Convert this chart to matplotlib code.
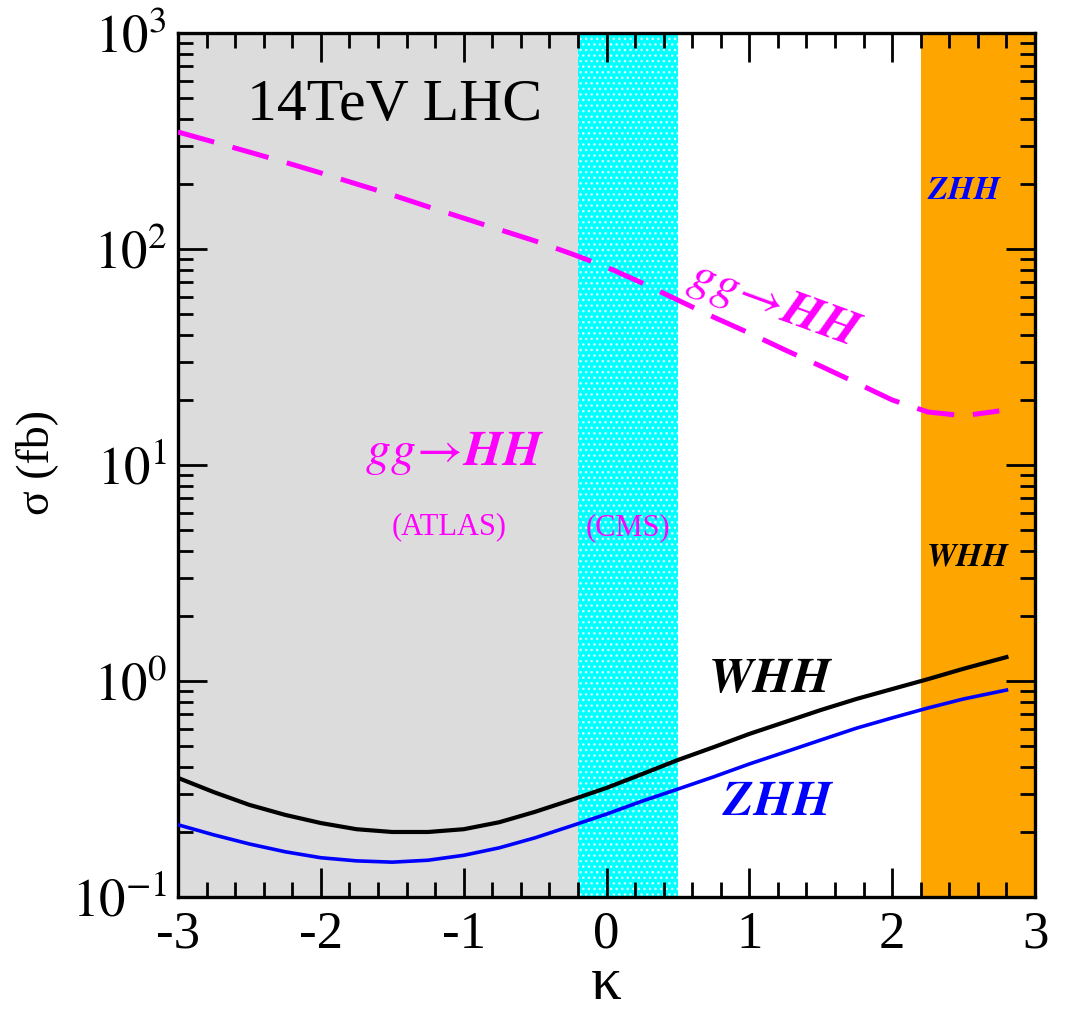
import numpy as np
import matplotlib
matplotlib.use("Agg")
import matplotlib.pyplot as plt
from matplotlib.ticker import MultipleLocator, LogLocator, FuncFormatter, NullFormatter

# kappa grid and cross sections (fb)
kappa = [-3.0, -2.75, -2.5, -2.25, -2.0, -1.75, -1.5, -1.25, -1.0, -0.75, -0.5, -0.25,
         0.0, 0.25, 0.5, 0.75, 1.0, 1.25, 1.5, 1.75, 2.0, 2.25, 2.5]
kappa_end = 2.8
kappa_gg = kappa + [2.75]

sigma_gg = [348, 313, 281, 252, 225, 200, 178, 157, 139, 123, 109, 95.3,
            82.5, 69.6, 58.0, 48.4, 40.8, 34.1, 28.7, 24.0, 20.0, 17.6, 16.9, 17.8]
sigma_whh = [0.356, 0.306, 0.267, 0.240, 0.220, 0.206, 0.200, 0.200, 0.206, 0.222, 0.248, 0.281,
             0.320, 0.371, 0.431, 0.494, 0.569, 0.646, 0.734, 0.826, 0.918, 1.02, 1.14, 1.29]
sigma_zhh = [0.216, 0.194, 0.176, 0.162, 0.152, 0.147, 0.145, 0.148, 0.156, 0.169, 0.188, 0.213,
             0.242, 0.278, 0.316, 0.360, 0.413, 0.469, 0.533, 0.605, 0.675, 0.750, 0.826, 0.908]

# excluded / allowed bands in kappa
atlas_band = (-3.0, -0.2)
cms_band = (-0.2, 0.5)
vh_band = (2.2, 3.0)

plt.rcParams["font.family"] = ["Liberation Serif", "DejaVu Serif"]
plt.rcParams["mathtext.fontset"] = "stix"
plt.rcParams["axes.unicode_minus"] = False
plt.rcParams["hatch.linewidth"] = 1.0
plt.rcParams["xtick.direction"] = "in"
plt.rcParams["ytick.direction"] = "in"
plt.rcParams["xtick.top"] = True
plt.rcParams["ytick.right"] = True

fig = plt.figure(figsize=(10.75, 10.13), dpi=100)
ax = fig.add_axes([0.1656, 0.1145, 0.7972, 0.8529])

ax.axvspan(*atlas_band, facecolor="#dcdcdc", edgecolor="none", zorder=0)
ax.axvspan(*cms_band, facecolor="#00ffff", edgecolor="#d8ffff", hatch="...", linewidth=0, zorder=0)
ax.axvspan(*vh_band, facecolor="#ffa500", edgecolor="none", zorder=0)

kx = kappa + [kappa_end]
ax.plot(kappa_gg, sigma_gg, color="#ff00ff", lw=3.6, dashes=(7.5, 3.8), zorder=3)
ax.plot(kx, sigma_whh, color="black", lw=3.0, zorder=3)
ax.plot(kx, sigma_zhh, color="#0000ff", lw=2.6, zorder=3)

ax.set_xlim(-3, 3)
ax.set_yscale("log")
ax.set_ylim(0.1, 1000)

ax.xaxis.set_major_locator(MultipleLocator(1))
ax.xaxis.set_minor_locator(MultipleLocator(0.2))
ax.yaxis.set_major_locator(LogLocator(base=10, numticks=10))
ax.yaxis.set_minor_locator(LogLocator(base=10, subs=np.arange(2, 10), numticks=20))
ax.yaxis.set_minor_formatter(NullFormatter())
ax.yaxis.set_major_formatter(FuncFormatter(lambda v, p: r"$10^{%d}$" % round(np.log10(v))))
ax.xaxis.set_major_formatter(FuncFormatter(lambda v, p: "%d" % round(v)))

ax.tick_params(which="major", length=21, width=2, labelsize=38)
ax.tick_params(which="minor", length=11, width=2)
ax.tick_params(axis="x", which="major", pad=10)
ax.tick_params(axis="y", which="major", pad=8)
for s in ax.spines.values():
    s.set_linewidth(2.4)

ax.set_xlabel("κ", fontsize=44, va="baseline")
ax.xaxis.set_label_coords(0.5, -0.118)
ax.set_ylabel("σ (fb)", fontsize=33)
ax.yaxis.set_label_coords(-0.14, 0.503)

ax.text(-2.52, 395, "14TeV LHC", fontsize=43, ha="left", va="baseline", zorder=4)
ax.text(-1.06, 11.4, r"$gg\!\rightarrow\!\mathbfit{HH}$", color="#ff00ff", fontsize=36,
        ha="center", va="center", zorder=4)
ax.text(-1.1, 5.2, "(ATLAS)", color="#ff00ff", fontsize=22, ha="center", va="center", zorder=4)
ax.text(0.15, 5.1, "(CMS)", color="#ff00ff", fontsize=22, ha="center", va="center", zorder=4)
ax.text(1.18, 55, r"$gg\!\rightarrow\!\mathbfit{HH}$", color="#ff00ff", fontsize=36,
        rotation=-20, rotation_mode="anchor", ha="center", va="center", zorder=4)
ax.text(2.51, 187, r"$\mathbfit{ZHH}$", color="#0000ff", fontsize=24, ha="center", va="center", zorder=4)
ax.text(2.53, 3.75, r"$\mathbfit{WHH}$", color="black", fontsize=24, ha="center", va="center", zorder=4)
ax.text(1.15, 1.01, r"$\mathbfit{WHH}$", color="black", fontsize=36, ha="center", va="center", zorder=4)
ax.text(1.2, 0.272, r"$\mathbfit{ZHH}$", color="#0000ff", fontsize=36, ha="center", va="center", zorder=4)

fig.savefig("out.png", dpi=100)
